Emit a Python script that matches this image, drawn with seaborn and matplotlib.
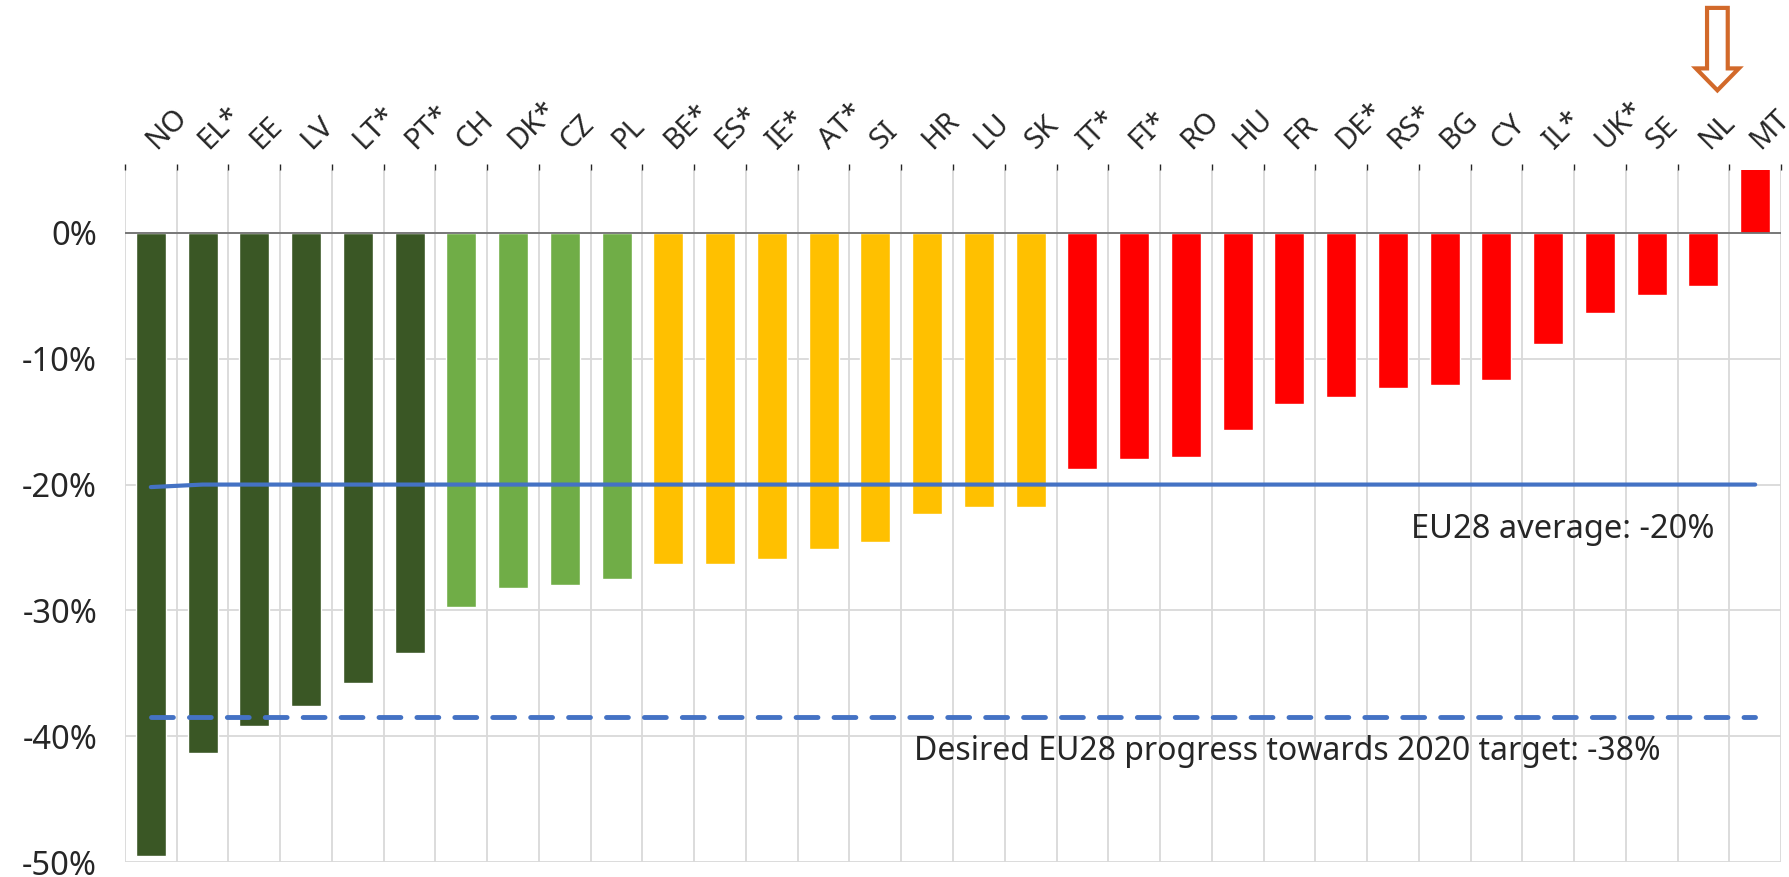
import numpy as np
import pandas as pd
import matplotlib
matplotlib.use('Agg')
import matplotlib.pyplot as plt
import matplotlib.transforms as mtransforms
from matplotlib.patches import FancyArrow
from matplotlib.ticker import FixedLocator, FuncFormatter
import seaborn as sns

countries = ['NO', 'EL*', 'EE', 'LV', 'LT*', 'PT*', 'CH', 'DK*', 'CZ', 'PL',
             'BE*', 'ES*', 'IE*', 'AT*', 'SI', 'HR', 'LU', 'SK', 'IT*', 'FI*',
             'RO', 'HU', 'FR', 'DE*', 'RS*', 'BG', 'CY', 'IL*', 'UK*', 'SE',
             'NL', 'MT']
change = [-49.5, -41.3, -39.2, -37.6, -35.8, -33.4, -29.7, -28.2, -28.0, -27.5,
          -26.3, -26.3, -25.9, -25.1, -24.6, -22.3, -21.8, -21.8, -18.8, -18.0,
          -17.8, -15.7, -13.6, -13.0, -12.3, -12.1, -11.7, -8.8, -6.4, -4.9,
          -4.2, 6.0]
group = ['dark'] * 6 + ['light'] * 4 + ['yellow'] * 8 + ['red'] * 14
eu_avg = [-20.2] + [-20.0] * 31
eu_target = [-38.5] * 32

colours = {'dark': '#3A5725', 'light': '#70AD47', 'yellow': '#FFC000', 'red': '#FF0000'}

df = pd.DataFrame({'country': countries, 'change': change, 'group': group})

sns.set_theme(style="white")
plt.rcParams['font.family'] = ['Noto Sans', 'DejaVu Sans']

fig = plt.figure(figsize=(17.9, 8.77), dpi=100)
ax = fig.add_axes([0.0698, 0.0171, 0.9252, 0.789])

sns.barplot(data=df, x='country', y='change', hue='group', palette=colours,
            dodge=False, width=0.58, legend=False, ax=ax, saturation=1)

x = np.arange(len(countries))
ax.plot(x, eu_avg, color='#4472C4', lw=3, solid_capstyle='round', zorder=4)
ax.plot(x, eu_target, color='#4472C4', lw=3.5, dashes=(4.5, 3.3),
        dash_capstyle='round', zorder=4)

ax.set_xlim(-0.5, 31.5)
ax.set_ylim(-50, 5)
ax.set_yticks([0, -10, -20, -30, -40, -50])
ax.yaxis.set_major_formatter(FuncFormatter(lambda v, p: f'{v:.0f}%'))
ax.tick_params(axis='y', labelsize=23.5, length=0, pad=20)

ax.xaxis.tick_top()
ax.set_xticks(x)
ax.set_xticklabels(countries, rotation=45, ha='left', va='center',
                   rotation_mode='anchor', fontsize=21)
ax.tick_params(axis='x', length=0, pad=18)
ax.set_xlabel('')
ax.set_ylabel('')

# grid
ax.xaxis.set_minor_locator(FixedLocator(np.arange(-0.5, 32, 1)))
ax.grid(axis='x', which='minor', color='#D9D9D9', lw=1.3)
ax.grid(axis='y', which='major', color='#D9D9D9', lw=1.3)
ax.set_axisbelow(True)
ax.axhline(0, color='#707070', lw=1.3, zorder=3)
for s in ax.spines.values():
    s.set_visible(False)

ax.text(24.35, -23.6, 'EU28 average: -20%', fontsize=23.5, ha='left', va='center')
ax.text(14.75, -41.2, 'Desired EU28 progress towards 2020 target: -38%',
        fontsize=23, ha='left', va='center')

# arrow pointing at NL
trans = mtransforms.blended_transform_factory(ax.transData, fig.transFigure)
arr = FancyArrow(30.27, 0.991, 0, -0.094, width=0.40, head_width=0.83,
                 head_length=0.025, length_includes_head=True,
                 transform=trans, facecolor='white', edgecolor='#D2692A',
                 lw=3, clip_on=False)
fig.patches.append(arr)

fig.savefig('out.png', dpi=100)
